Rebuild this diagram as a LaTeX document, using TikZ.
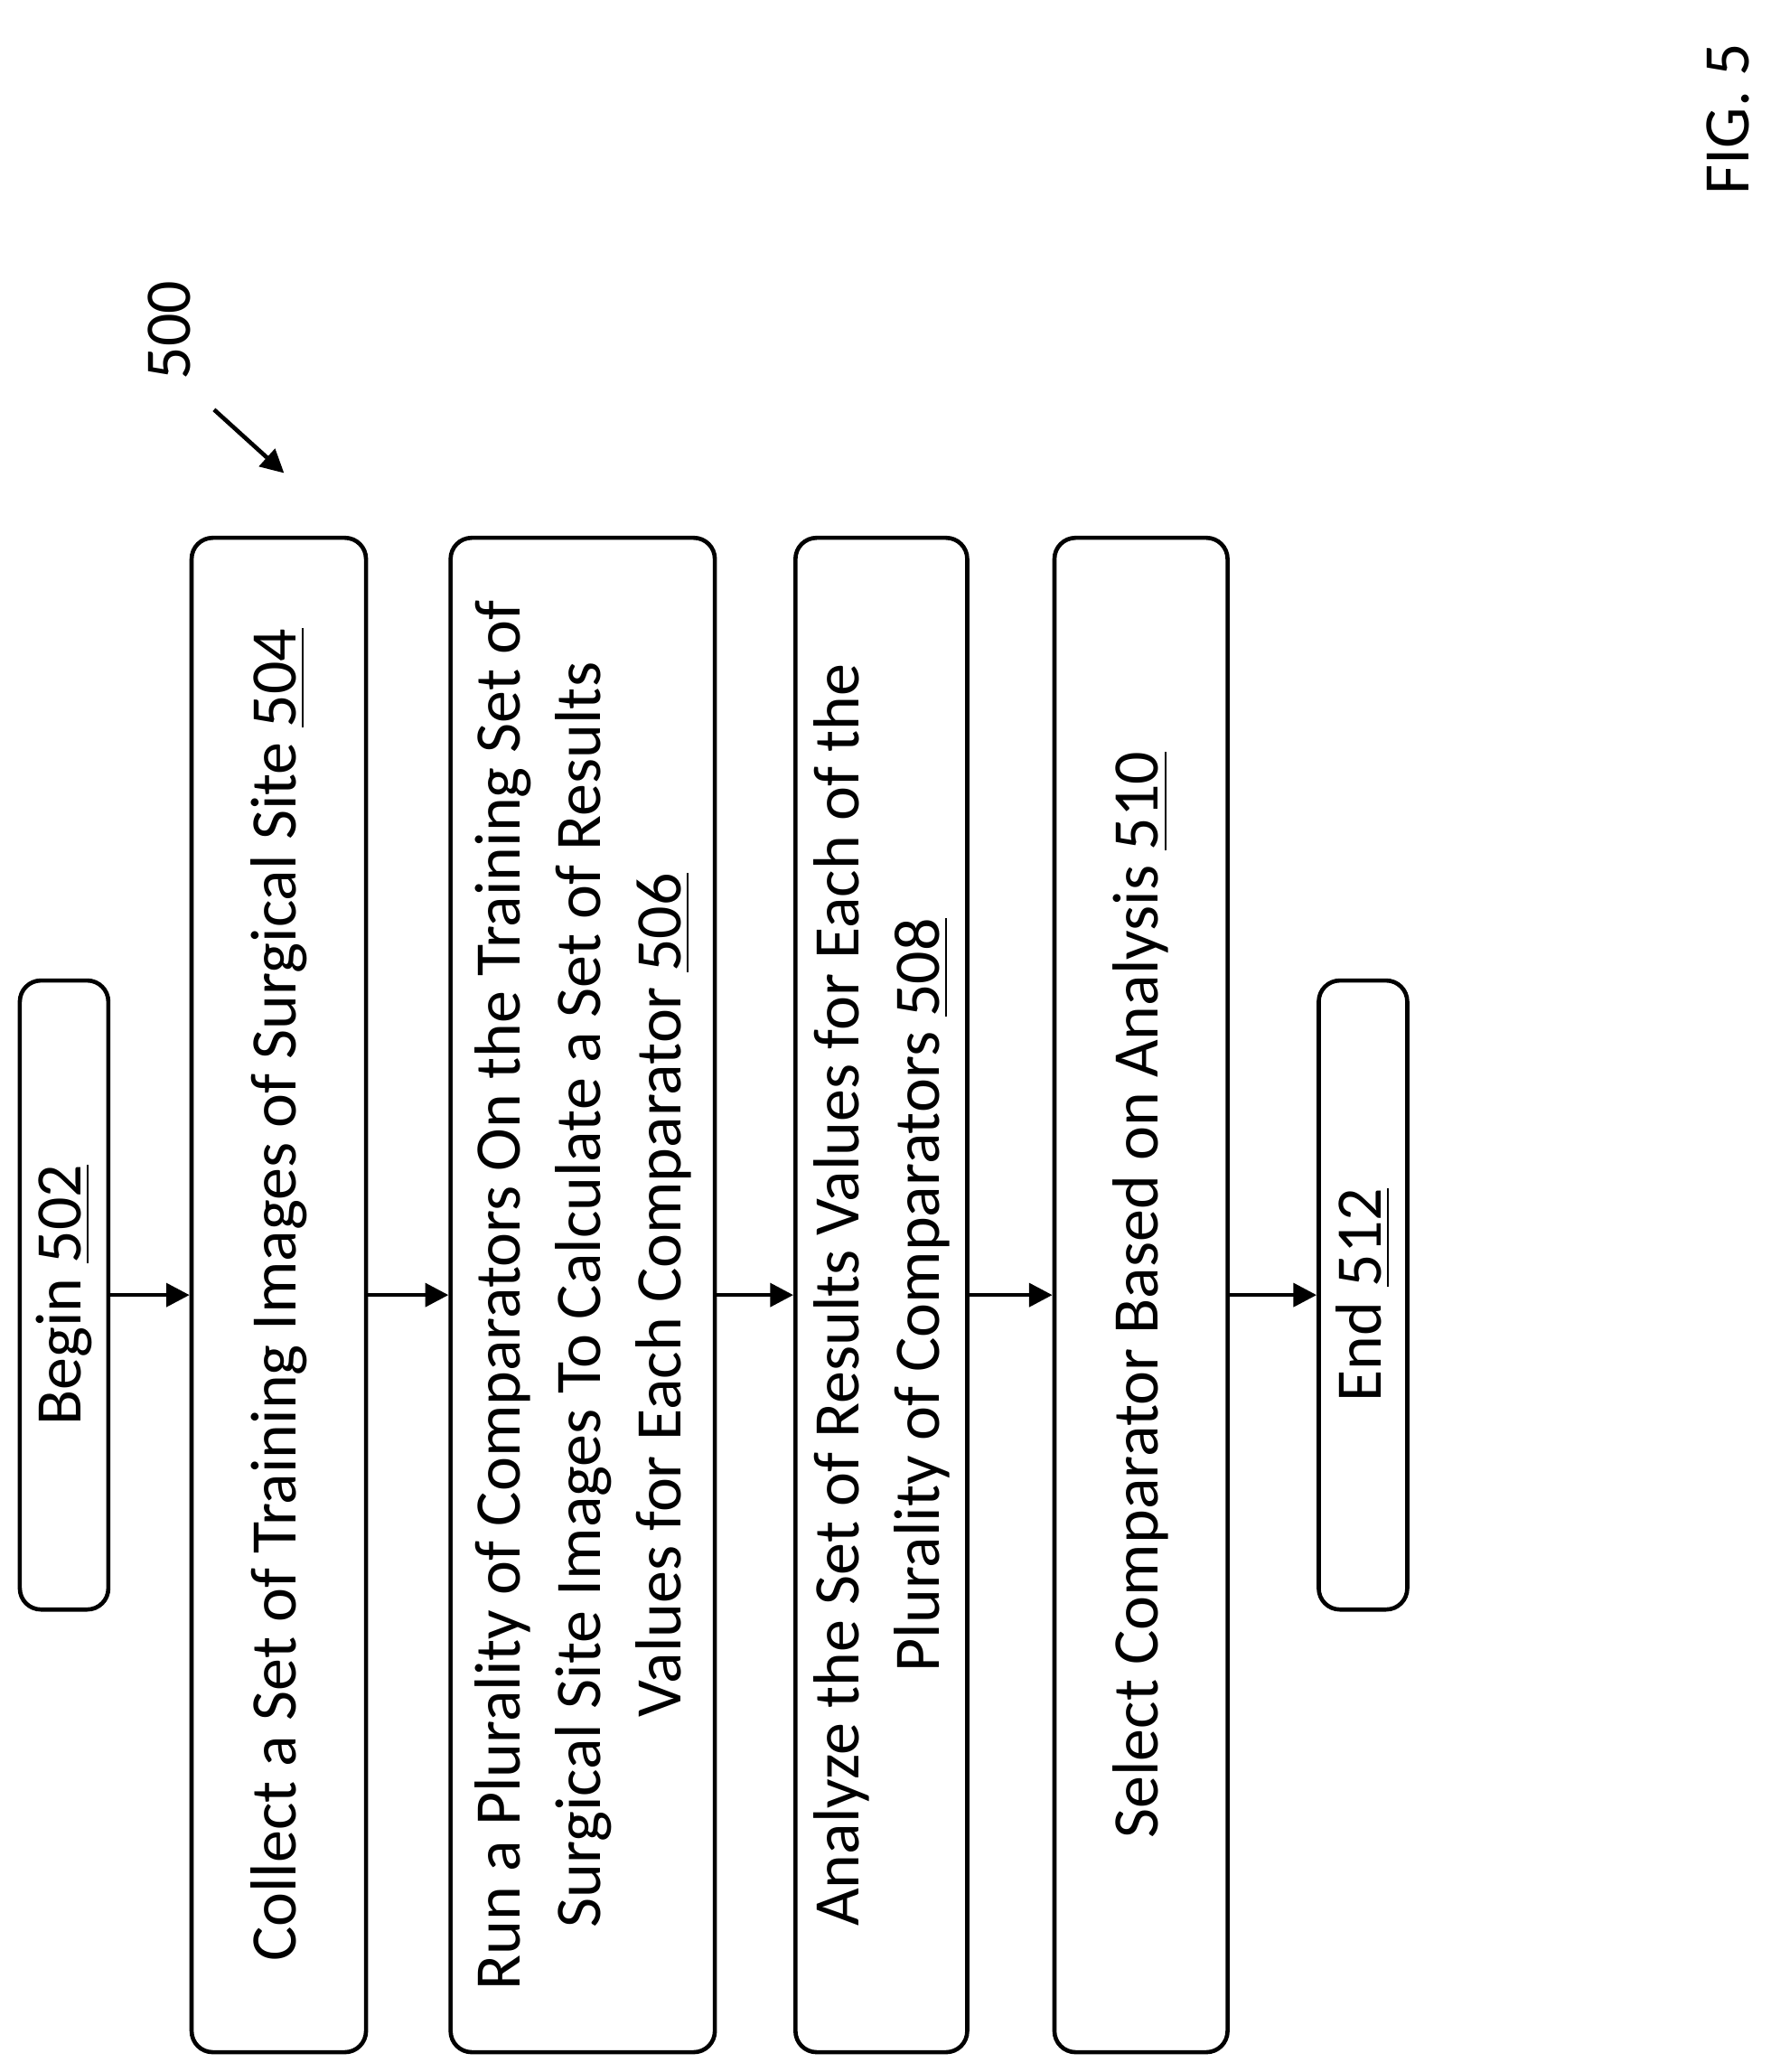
\documentclass[tikz,border=0pt]{standalone}
\usepackage{fontspec}
\setmainfont{Carlito}
\usetikzlibrary{arrows.meta}
\begin{document}
\begin{tikzpicture}[
  box/.style={draw,line width=0.9pt,rounded corners=0.16cm,rotate=90,align=center,font=\fontsize{14}{17.3}\selectfont,inner sep=2pt},
  arr/.style={-{Triangle[length=5pt,width=5pt]},line width=0.9pt}]
\useasboundingbox (0,0) rectangle (13.4,-15.68);
\node[box,minimum width=4.76cm,minimum height=0.67cm] (b) at (0.485,-9.80) {Begin \underline{502}};
\node[box,minimum width=11.46cm,minimum height=1.32cm] (c) at (2.11,-9.80) {Collect a Set of Training Images of Surgical Site \underline{504}};
\node[box,minimum width=11.46cm,minimum height=2.0cm] (r) at (4.41,-9.80) {Run a Plurality of Comparators On the Training Set of\\ Surgical Site Images To Calculate a Set of Results\\ Values for Each Comparator \underline{506}};
\node[box,minimum width=11.46cm,minimum height=1.30cm] (a) at (6.67,-9.80) {Analyze the Set of Results Values for Each of the\\ Plurality of Comparators \underline{508}};
\node[box,minimum width=11.46cm,minimum height=1.31cm] (s) at (8.635,-9.80) {Select Comparator Based on Analysis \underline{510}};
\node[box,minimum width=4.76cm,minimum height=0.67cm] (e) at (10.315,-9.80) {End \underline{512}};
\draw[arr] (b) -- (c);
\draw[arr] (c) -- (r);
\draw[arr] (r) -- (a);
\draw[arr] (a) -- (s);
\draw[arr] (s) -- (e);
\node[rotate=90,font=\fontsize{14}{17}\selectfont] (n) at (1.28,-2.50) {500};
\coordinate (t) at (2.15,-3.58);
\draw[arr] (1.62,-3.10) -- (t);
\node[rotate=90,font=\fontsize{14}{17}\selectfont] (f) at (13.08,-0.90) {FIG. 5};
\end{tikzpicture}
\end{document}
